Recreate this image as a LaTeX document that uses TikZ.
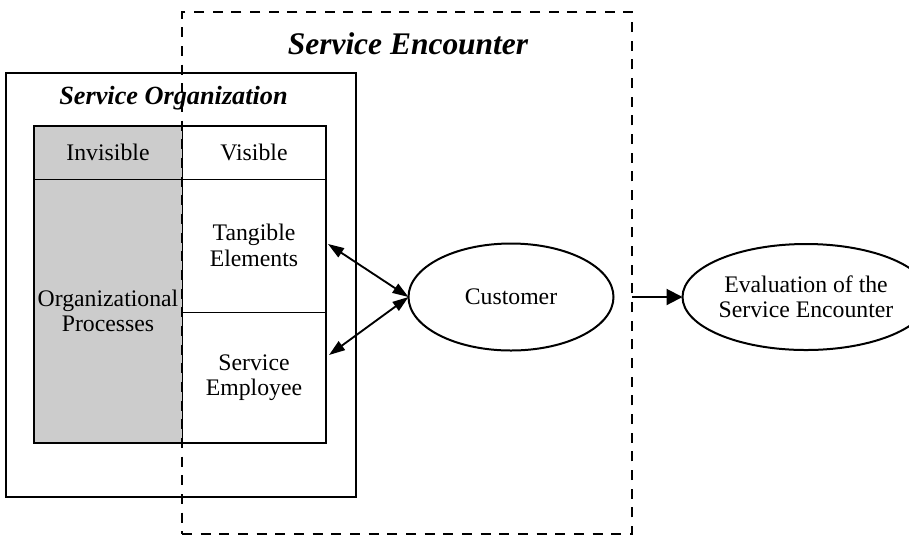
\documentclass[tikz,border=0pt]{standalone}
\usepackage{fontspec}
\setmainfont{Liberation Serif}
\usetikzlibrary{arrows.meta,shapes.geometric}
\definecolor{procgray}{HTML}{CCCCCC}
\begin{document}
\begin{tikzpicture}[x=0.75pt,y=-0.75pt,
  every node/.style={font=\fontsize{17.8}{19}\selectfont, align=center, inner sep=0pt, outer sep=0pt},
  sz/.style 2 args={minimum width=#1*0.75pt, minimum height=#2*0.75pt},
  cellbox/.style={draw, rectangle, line width=0.6pt},
  graycell/.style={cellbox, fill=procgray},
  heavybox/.style={draw, rectangle, line width=1.5pt},
  encbox/.style={draw, rectangle, line width=1.7pt, dash pattern=on 7.5pt off 6.5pt},
  oval/.style={draw, ellipse, line width=1.5pt, fill=white},
  dblarrow/.style={line width=1.4pt, {Triangle[length=12pt,width=8pt]}-{Triangle[length=12pt,width=8pt]}},
  onearrow/.style={line width=1.5pt, -{Triangle[length=12pt,width=12pt]}},
  bigtitle/.style={font=\fontsize{23.6}{26}\selectfont\bfseries\itshape, anchor=base},
  midtitle/.style={font=\fontsize{19.7}{22}\selectfont\bfseries\itshape, anchor=base}
]
\useasboundingbox (0,0) rectangle (909,537);

% Service organization box
\node[heavybox, sz={350}{424}] (org) at (181,285) {};
\node[midtitle] (orgtitle) at (173.5,104) {Service Organization};

% cells
\node[graycell, sz={148}{53}] (invhead) at (108,152.5) {Invisible};
\node[cellbox, sz={144}{53}] (vishead) at (254,152.5) {Visible};
\node[graycell, sz={148}{264}] (proc) at (108,311) {Organizational\\Processes};
\node[cellbox, sz={144}{133}] (tang) at (254,245.5) {Tangible\\Elements};
\node[cellbox, sz={144}{131}] (emp) at (254,377.5) {Service\\Employee};
\node[heavybox, sz={292}{317}] (panel) at (180,284.5) {};

% Service encounter box
\node[encbox, sz={450}{522}] (enc) at (407,273) {};
\node[bigtitle] (enctitle) at (408,54) {Service Encounter};

% ellipses
\node[oval, sz={205}{107}] (cust) at (511,297) {Customer};
\node[oval, sz={202}{106}] (eval) at (806,297) {Evaluation of the\\Service Encounter};

% connectors
\coordinate (t1) at (328,244);
\coordinate (t2) at (329,355);
\draw[dblarrow] (t1) -- (cust.west);
\draw[dblarrow] (t2) -- (cust.west);
\draw[onearrow] (enc.east |- eval.west) -- (eval.west);
\end{tikzpicture}
\end{document}
